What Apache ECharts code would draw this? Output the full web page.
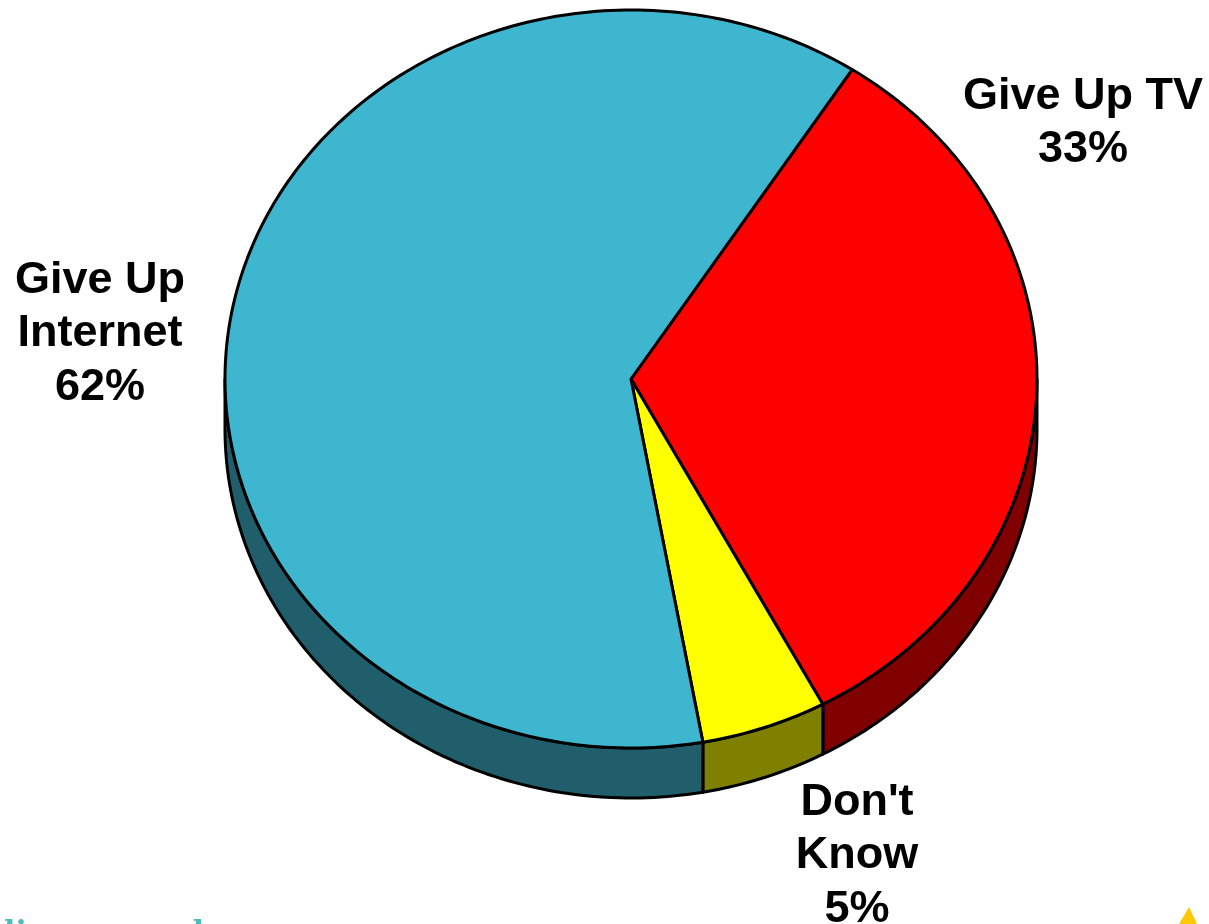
<!DOCTYPE html>
<html><head><meta charset="utf-8">
<style>html,body{margin:0;padding:0;background:#fff;overflow:hidden}#c{width:1209px;height:924px}</style>
<script src="https://cdn.jsdelivr.net/npm/echarts@6/dist/echarts.min.js"></script>
</head><body><div id="c"></div>
<script>
const categories = ['Give Up TV', "Don't Know", 'Give Up Internet'];
const shares = [33, 5, 62];
const labelLines = [['Give Up TV', '33%'], ["Don't", 'Know', '5%'], ['Give Up', 'Internet', '62%']];
const topColors = ['#FF0000', '#FFFF00', '#3FB6CF'];
const sideColors = ['#800000', '#808000', '#215E6C'];
const firstAngle = 33;

const cx = 631, cy = 379, rx = 406, ry = 369, depth = 50;
const total = shares.reduce((a, b) => a + b, 0);
function range(i) {
  let s = firstAngle;
  for (let k = 0; k < i; k++) s += shares[k] / total * 360;
  return [s, s + shares[i] / total * 360];
}
function pt(a, dy) {
  const r = a * Math.PI / 180;
  return [cx + rx * Math.sin(r), cy - ry * Math.cos(r) + (dy || 0)];
}
function arc(a0, a1, dy) {
  const out = [], n = Math.max(2, Math.ceil((a1 - a0) / 1));
  for (let j = 0; j <= n; j++) out.push(pt(a0 + (a1 - a0) * j / n, dy));
  return out;
}
const lineStyle = { stroke: '#000', lineWidth: 3, lineJoin: 'round' };
function sideItem(params) {
  const [a0, a1] = range(params.dataIndex);
  const children = [];
  for (const off of [0, 360]) {
    const s = Math.max(a0, 90 + off), e = Math.min(a1, 270 + off);
    if (e <= s) continue;
    const upper = arc(s, e, 0), lower = arc(s, e, depth).reverse();
    children.push({ type: 'polygon', shape: { points: upper.concat(lower) },
      style: Object.assign({ fill: sideColors[params.dataIndex] }, lineStyle) });
  }
  return { type: 'group', children };
}
function topItem(params) {
  const [a0, a1] = range(params.dataIndex);
  return { type: 'polygon', shape: { points: [[cx, cy]].concat(arc(a0, a1, 0)) },
    style: Object.assign({ fill: topColors[params.dataIndex] }, lineStyle) };
}
const data = categories.map((c, i) => ({ name: c, value: shares[i] }));
const labelAt = [[1083, 123], [857, 856], [100, 334]];
const graphic = labelLines.map((l, i) => ({
  type: 'text', x: labelAt[i][0], y: labelAt[i][1], z: 10,
  style: { text: l.join('\n'), fill: '#000', font: 'bold 45px "Liberation Sans"',
    lineHeight: 53.5, align: 'center', verticalAlign: 'middle', textAlign: 'center', textVerticalAlign: 'middle' }
}));
graphic.push({ type: 'polygon', z: 5, shape: { points: [[1189, 907], [1179, 924], [1197, 924]] },
  style: { fill: '#FFC800' } });
const footFont = 'bold 30px "DejaVu Serif"';
graphic.push({ type: 'text', x: 4, y: 949, z: 5,
  style: { text: 'li', fill: '#4DBDB8', font: footFont, textAlign: 'left', textVerticalAlign: 'bottom', verticalAlign: 'alphabetic' } });
graphic.push({ type: 'text', x: 183, y: 949, z: 5,
  style: { text: 'd', fill: '#4DBDB8', font: footFont, textAlign: 'left', textVerticalAlign: 'bottom', verticalAlign: 'alphabetic' } });
const chart = echarts.init(document.getElementById('c'), null, { renderer: 'canvas' });
chart.setOption({
  animation: false,
  backgroundColor: '#fff',
  graphic,
  series: [
    { type: 'custom', coordinateSystem: 'none', renderItem: sideItem, data, silent: true, z: 1 },
    { type: 'custom', coordinateSystem: 'none', renderItem: topItem, data, silent: true, z: 2 }
  ]
});
</script></body></html>
